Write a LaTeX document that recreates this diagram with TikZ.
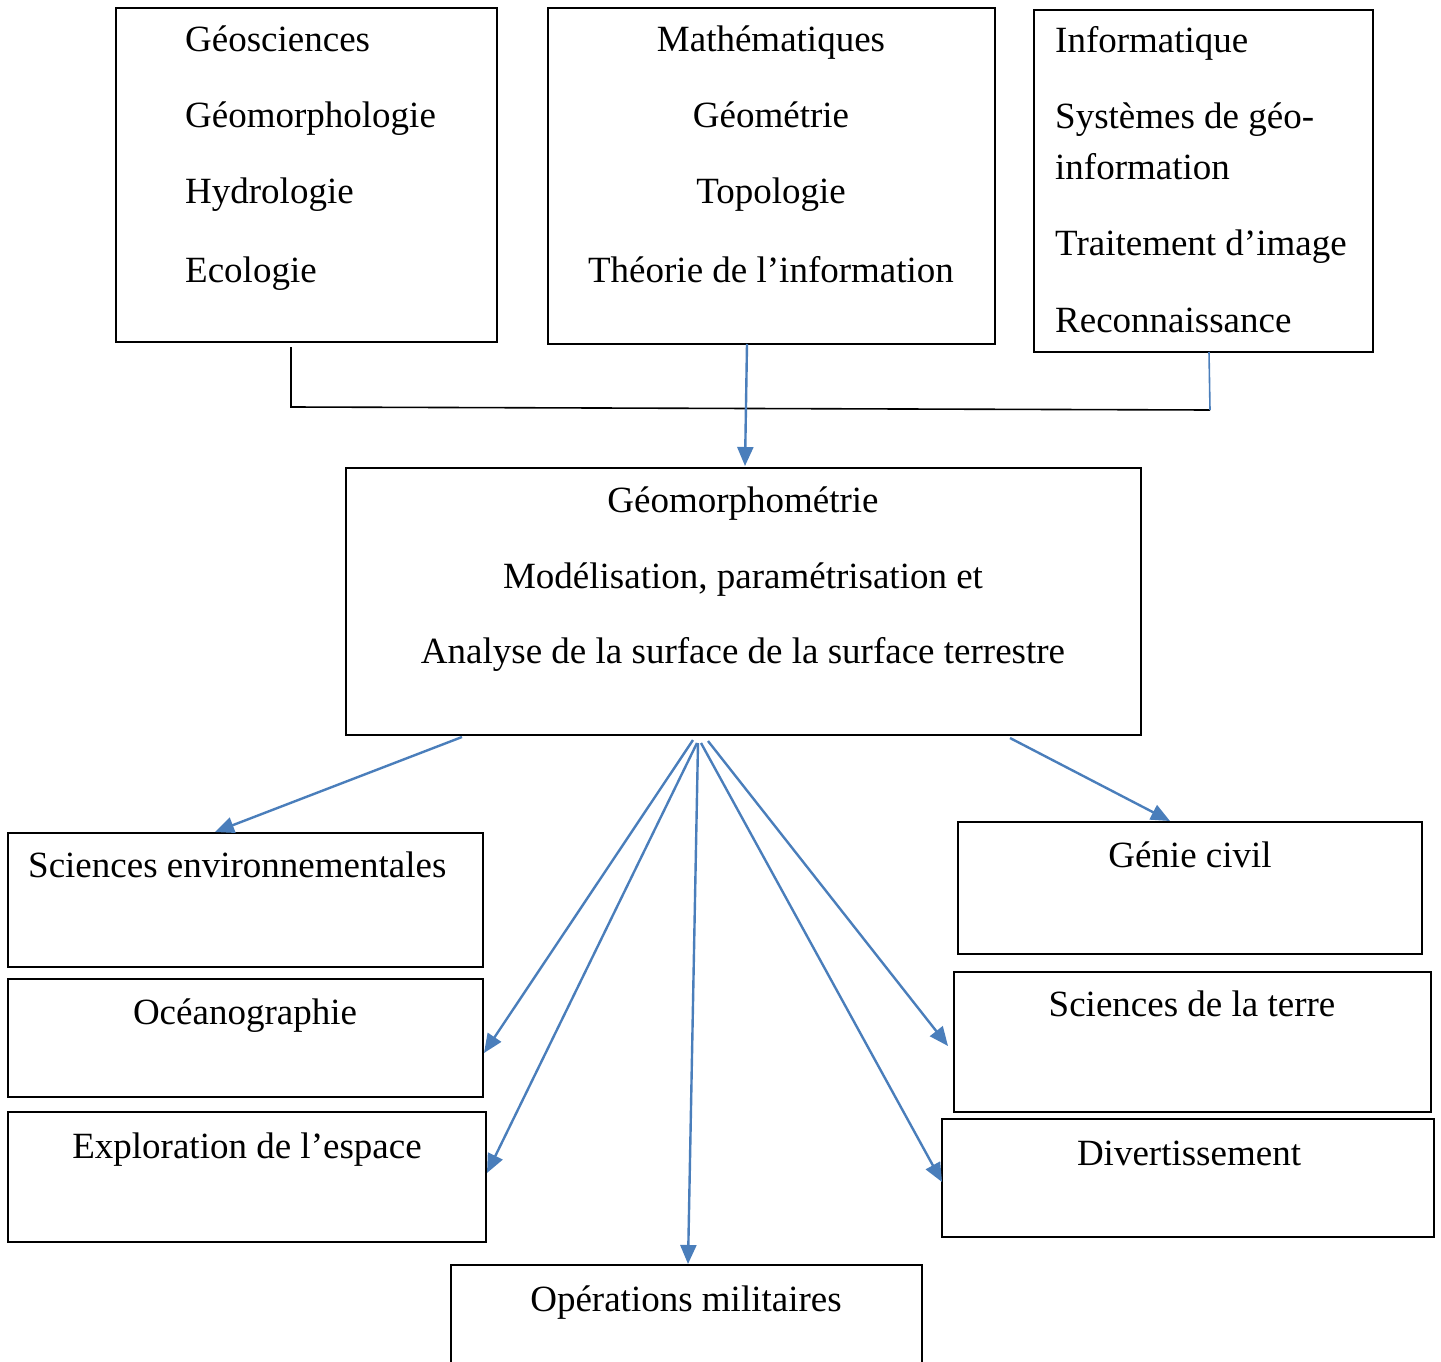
\documentclass[tikz,border=0pt]{standalone}
\usepackage{fontspec}
\setmainfont{Liberation Serif}
\usetikzlibrary{arrows.meta}
\definecolor{arrowblue}{RGB}{74,126,187}
\begin{document}
\begin{tikzpicture}[x=1pt,y=-1pt,
  box/.style={draw=black, line width=1.2pt, inner sep=0pt, outer sep=0pt, anchor=north west},
  txt/.style={font=\fontsize{37}{44}\selectfont, inner sep=0pt},
  conn/.style={draw=arrowblue, line width=2.4pt},
  arr/.style={conn, -{Triangle[length=19pt,width=16pt]}},
  blackline/.style={draw=black, line width=1.6pt},
]
\useasboundingbox (0,0) rectangle (1441,1362);
\clip (0,0) rectangle (1441,1362);

% top boxes
\node[box, minimum width=381pt, minimum height=334pt] (geo) at (116,8) {};
\node[txt, anchor=base west] (geoA) at (185,52) {Géosciences};
\node[txt, anchor=base west] (geoB) at (185,128) {Géomorphologie};
\node[txt, anchor=base west] (geoC) at (185,204) {Hydrologie};
\node[txt, anchor=base west] (geoD) at (185,282) {Ecologie};

\node[box, minimum width=447pt, minimum height=336pt] (math) at (548,8) {};
\node[txt, anchor=base] (mathA) at (771,52) {Mathématiques};
\node[txt, anchor=base] (mathB) at (771,128) {Géométrie};
\node[txt, anchor=base] (mathC) at (771,204) {Topologie};
\node[txt, anchor=base] (mathD) at (771,282) {Théorie de l’information};

\node[box, minimum width=339pt, minimum height=342pt] (info) at (1034,10) {};
\node[txt, anchor=base west] (infoA) at (1055,53) {Informatique};
\node[txt, anchor=base west] (infoB) at (1055,129) {Systèmes de géo-};
\node[txt, anchor=base west] (infoC) at (1055,179) {information};
\node[txt, anchor=base west] (infoD) at (1055,255) {Traitement d’image};
\node[txt, anchor=base west] (infoE) at (1055,332) {Reconnaissance};

% central box
\node[box, minimum width=795pt, minimum height=267pt] (geom) at (346,468) {};
\node[txt, anchor=base] (geomA) at (743,512) {Géomorphométrie};
\node[txt, anchor=base] (geomB) at (743,588) {Modélisation, paramétrisation et};
\node[txt, anchor=base] (geomC) at (743,663) {Analyse de la surface de la surface terrestre};

% lower boxes
\node[box, minimum width=475pt, minimum height=134pt] (senv) at (8,833) {};
\node[txt, anchor=base west] (senvA) at (28,877) {Sciences environnementales};

\node[box, minimum width=475pt, minimum height=118pt] (ocean) at (8,979) {};
\node[txt, anchor=base] (oceanA) at (245,1024) {Océanographie};

\node[box, minimum width=478pt, minimum height=130pt] (explo) at (8,1112) {};
\node[txt, anchor=base] (exploA) at (247,1158) {Exploration de l’espace};

\node[box, minimum width=471pt, minimum height=120pt] (milit) at (451,1265) {};
\node[txt, anchor=base] (militA) at (686,1311) {Opérations militaires};

\node[box, minimum width=464pt, minimum height=132pt] (genie) at (958,822) {};
\node[txt, anchor=base] (genieA) at (1190,867) {Génie civil};

\node[box, minimum width=477pt, minimum height=140pt] (terre) at (954,972) {};
\node[txt, anchor=base] (terreA) at (1192,1016) {Sciences de la terre};

\node[box, minimum width=492pt, minimum height=118pt] (divert) at (942,1119) {};
\node[txt, anchor=base] (divertA) at (1189,1165) {Divertissement};

% junction coordinates
\coordinate (g1) at (291,347);
\coordinate (j1) at (291,407);
\coordinate (j2) at (1210,410);
\coordinate (i1) at (1209,352);
\coordinate (m1) at (747,344);
\coordinate (m2) at (745,466);

\draw[blackline] (g1) -- (j1) -- (j2);
\draw[conn, line width=1.6pt] (i1) -- (j2);
\draw[arr] (m1) -- (m2);

% lower arrow coordinates
\coordinate (s1) at (462,737);
\coordinate (s2) at (693,740);
\coordinate (s3) at (697,743);
\coordinate (s4) at (698,743);
\coordinate (s5) at (701,743);
\coordinate (s6) at (708,741);
\coordinate (s7) at (1010,738);

\coordinate (e1) at (215,832);
\coordinate (e2) at (484,1053);
\coordinate (e3) at (487,1173);
\coordinate (e4) at (688,1264);
\coordinate (e5) at (942,1182);
\coordinate (e6) at (948,1046);
\coordinate (e7) at (1170,821);

\draw[arr] (s1) -- (e1);
\draw[arr] (s2) -- (e2);
\draw[arr] (s3) -- (e3);
\draw[arr] (s4) -- (e4);
\draw[arr] (s5) -- (e5);
\draw[arr] (s6) -- (e6);
\draw[arr] (s7) -- (e7);
\end{tikzpicture}
\end{document}
